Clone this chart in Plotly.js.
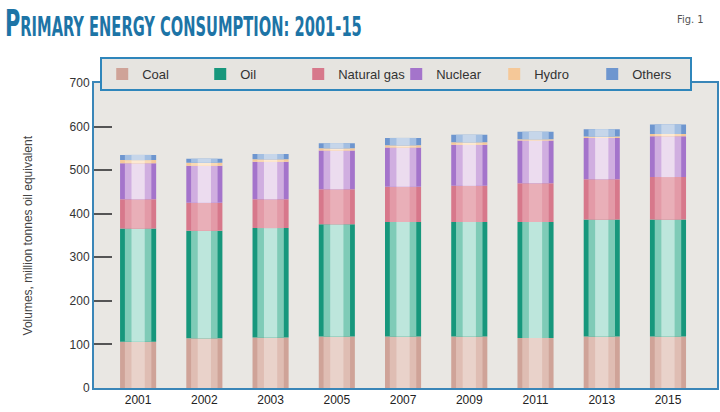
<!DOCTYPE html>
<html>
<head>
<meta charset="utf-8">
<script src="https://cdn.plot.ly/plotly-3.0.1.min.js"></script>
<style>html,body{margin:0;padding:0;background:#fff;}#chart{width:720px;height:412px;}</style>
</head>
<body>
<div id="chart"></div>
<script>
const years = ['2001','2002','2003','2005','2007','2009','2011','2013','2015'];
const coal    = [106,114,116,118,118,118,115,118,118];
const oil     = [260,247,251,258,263,263,266,269,269];
const gas     = [67, 64, 66, 80, 81, 83, 89, 92, 97];
const nuclear = [83, 85, 86, 89, 90, 94, 98, 95, 94];
const hydro   = [7,  7,  6,  5,  5,  6,  3,  3,  5];
const others  = [12, 9,  12, 12, 17, 17, 17, 17, 22];

const series = [
  {name:'Coal', v:coal, c:['#cfa398','#dfbdb3','#e9d2ca']},
  {name:'Oil', v:oil, c:['#17977c','#7fcbb7','#bde6dc']},
  {name:'Natural gas', v:gas, c:['#d7788b','#e39aa7','#e9afb8']},
  {name:'Nuclear', v:nuclear, c:['#a474cb','#d0aee0','#ecdcef']},
  {name:'Hydro', v:hydro, c:['#f5c898','#f9d9b4','#fde9d2']},
  {name:'Others', v:others, c:['#6e96cf','#a3bfe2','#c6d6ea']}
];

const widths = [0.545, 0.40, 0.2];
const traces = [];
let base = years.map(() => 0);
series.forEach(s => {
  const b = base.slice();
  widths.forEach((w, i) => {
    traces.push({
      type:'bar', x:years, y:s.v, base:b, name:s.name,
      width:w, marker:{color:s.c[i], line:{width:0}},
      showlegend: i === 0, legendgroup:s.name, hoverinfo: i === 0 ? 'x+y+name' : 'skip'
    });
  });
  base = base.map((v, k) => v + s.v[k]);
});

const font = 'Arial, "Liberation Sans", sans-serif';
const condensed = '"DejaVu Sans Condensed", "Liberation Sans Narrow", sans-serif';
const layout = {
  width:720, height:412,
  margin:{l:94, r:3, t:83, b:24},
  paper_bgcolor:'#ffffff',
  plot_bgcolor:'#e9e7e3',
  barmode:'overlay',
  showlegend:true,
  title:{
    text:'<b><span style="font-size:37px">P</span>RIMARY ENERGY CONSUMPTION: 2001-15</b>',
    font:{family:condensed, size:26, color:'#1d74a6'},
    x:0.007, xanchor:'left', xref:'container', y:0.94, yanchor:'middle', yref:'container'
  },
  xaxis:{
    type:'category', range:[-0.666, 8.74],
    showline:true, mirror:true, linecolor:'#3a86b8', linewidth:2,
    ticks:'', showgrid:false, zeroline:false,
    tickfont:{family:font, size:12, color:'#222'}
  },
  yaxis:{
    range:[0,700], dtick:100, tick0:0,
    showline:true, mirror:true, linecolor:'#3a86b8', linewidth:2,
    ticks:'inside', ticklen:18, tickwidth:2, tickcolor:'#555',
    showgrid:false, zeroline:false,
    tickfont:{family:font, size:12, color:'#333'}
  },
  legend:{
    orientation:'h', x:0.01, xanchor:'left', y:1.085, yanchor:'top',
    bgcolor:'#e6e4e0', bordercolor:'#2f86bb', borderwidth:2,
    font:{family:font, size:13, color:'#333'},
    entrywidth:53, entrywidthmode:'pixels', traceorder:'normal'
  },
  annotations:[
    {text:'Volumes, million tonnes oil equivalent', xref:'paper', yref:'paper',
     x:-0.106, y:0.5, xanchor:'center', yanchor:'middle', textangle:-90, showarrow:false,
     font:{family:font, size:12, color:'#444'}},
    {text:'Fig. 1', xref:'paper', yref:'paper', x:0.982, y:1.2066, xanchor:'right', yanchor:'middle',
     showarrow:false, font:{family:condensed, size:11, color:'#555'}}
  ]
};

Plotly.newPlot('chart', traces, layout, {displayModeBar:false, staticPlot:true}).then(() => {
  const t = document.querySelector('.gtitle');
  if (t) {
    const bb = t.getBBox();
    const sx = 357 / bb.width;
    const dy = 2;
    t.setAttribute('transform', `translate(5,${dy}) scale(${sx},1) translate(${-bb.x},0)`);
  }
});
</script>
</body>
</html>
